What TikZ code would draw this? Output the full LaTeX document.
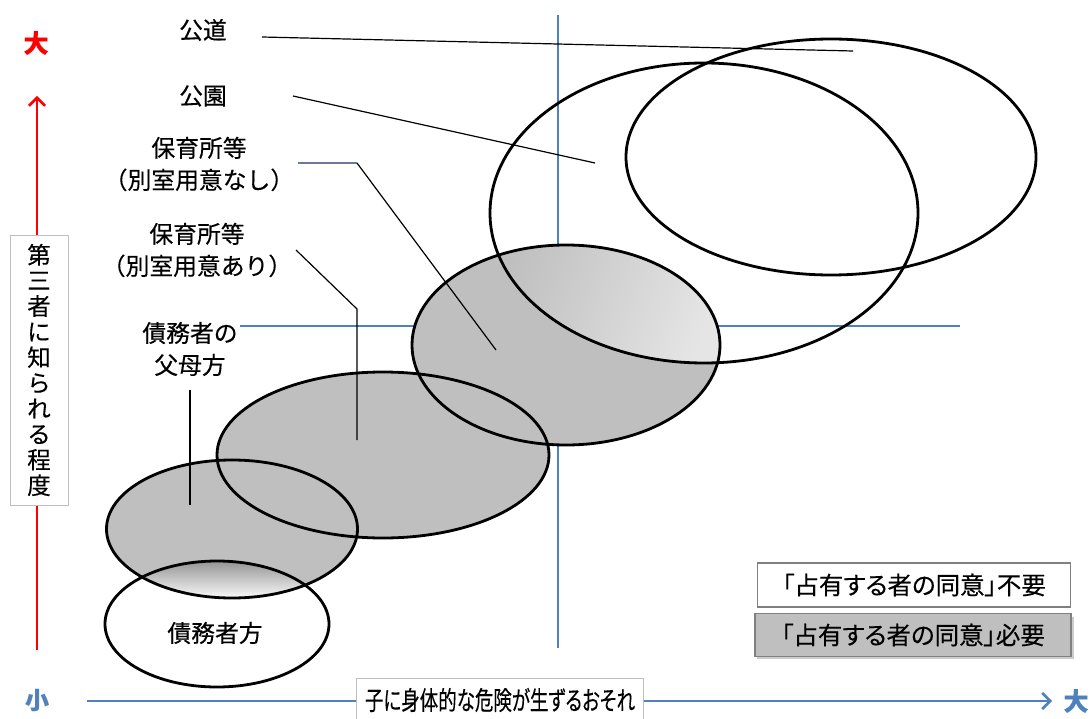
\documentclass[tikz,border=0pt]{standalone}
\usepackage{fontspec}
\usepackage{graphicx}
\setmainfont{Noto Sans CJK JP}[FakeBold=0.25]
\newfontfamily\jpp{Noto Sans CJK JP}[RawFeature=+palt, FakeBold=0.25]
\usetikzlibrary{arrows.meta}
\definecolor{axblue}{HTML}{4F81BD}
\definecolor{fillgray}{HTML}{BFBFBF}
\definecolor{boxgray}{HTML}{BFBFBF}
\definecolor{leadblue}{HTML}{6B7B95}
\begin{document}
\begin{tikzpicture}[x=1pt,y=-1pt,
  lbl/.style={font=\fontsize{23.8}{32}\selectfont, align=center, inner sep=0pt},
  ell/.style={line width=2.8pt, draw=black},
  lead/.style={line width=1.2pt, black},
  crossline/.style={line width=1.4pt, axblue},
  axarrow/.style={line width=2.6pt, -{Straight Barb[length=8pt,width=16pt]}},
  legbox/.style={draw=black!50, line width=1.2pt, minimum width=313pt, minimum height=44pt, inner sep=0pt, font=\jpp\fontsize{24.5}{28}\selectfont},
]
\useasboundingbox (0,0) rectangle (1091,719);
\fill[white] (0,0) rectangle (1091,719);

% quadrant lines
\draw[crossline] (558,15) -- (558,648);
\draw[crossline] (240,326) -- (960,326);

% grey fills
\fill[fillgray] (232,529) ellipse [x radius=125.5, y radius=69];
\fill[fillgray] (383,455) ellipse [x radius=166, y radius=83];
\fill[fillgray] (566,345) ellipse [x radius=154, y radius=100];

% gradient intersections
\begin{scope}
  \clip (566,345) ellipse [x radius=154, y radius=100];
  \clip (704,213) ellipse [x radius=214, y radius=150];
  \shade[left color=fillgray, right color=black!10, shading angle=70] (490,235) rectangle (725,365);
\end{scope}
\begin{scope}
  \clip (232,529) ellipse [x radius=125.5, y radius=69];
  \clip (217,624) ellipse [x radius=112, y radius=63];
  \shade[top color=black!45, bottom color=white] (100,558) rectangle (360,600);
\end{scope}

% outlines
\draw[ell] (831,157) ellipse [x radius=205, y radius=118];
\draw[ell] (704,213) ellipse [x radius=214, y radius=150];
\draw[ell] (566,345) ellipse [x radius=154, y radius=100];
\draw[ell] (383,455) ellipse [x radius=166, y radius=83];
\draw[ell] (232,529) ellipse [x radius=125.5, y radius=69];
\draw[ell] (217,624) ellipse [x radius=112, y radius=63];

% labels
\node[lbl] (gd) at (203,30) {公道};
\node[lbl] (ke) at (203,96) {公園};
\node[lbl] (hn) at (199,164) {保育所等\\（別室用意なし）};
\node[lbl] (ha) at (197,250) {保育所等\\（別室用意あり）};
\node[lbl] (fb) at (190,349) {債務者の\\父母方};
\node[lbl] (sm) at (215,633) {債務者方};

% leader lines
\coordinate (gdA) at (262,37);  \coordinate (gdB) at (853,51);
\coordinate (keA) at (293,96);  \coordinate (keB) at (595,163);
\coordinate (hnA) at (298,163); \coordinate (hnK) at (357,163); \coordinate (hnB) at (496,350);
\coordinate (haA) at (296,250); \coordinate (haK) at (357,309); \coordinate (haB) at (357,440);
\coordinate (fbA) at (190,390); \coordinate (fbB) at (190,505);
\draw[lead] (gdA) -- (gdB);
\draw[lead] (keA) -- (keB);
\draw[line width=1.2pt, leadblue] (hnA) -- (hnK);
\draw[lead] (hnK) -- (hnB);
\draw[lead] (haA) -- (haK) -- (haB);
\draw[lead] (fbA) -- (fbB);

% vertical axis
\coordinate (yS) at (37,650);
\coordinate (yE) at (37,96);
\draw[axarrow, red] (yS) -- (yE);
\node[font=\fontsize{25}{28}\selectfont\bfseries, text=red] (ybig) at (36,43) {大};
\node[draw=black!25, line width=0.8pt, fill=white, minimum width=58pt, minimum height=270pt, inner sep=0pt,
      align=center, font=\fontsize{23.5}{25.6}\selectfont] (ylab) at (39,370)
  {第\\三\\者\\に\\知\\ら\\れ\\る\\程\\度};

% horizontal axis
\coordinate (xS) at (87,701);
\coordinate (xE) at (1052,701);
\draw[axarrow, axblue] (xS) -- (xE);
\node[font=\fontsize{24}{28}\selectfont\bfseries, text=axblue] (xsmall) at (37,700) {小};
\node[font=\fontsize{25}{28}\selectfont\bfseries, text=axblue] (xbig) at (1076,701) {大};
\fill[white] (356,678) rectangle (643,719);
\draw[black!25, line width=0.8pt] (356,719) -- (356,678) -- (643,678) -- (643,719);
\node[font=\jpp\fontsize{23}{28}\selectfont, inner sep=0pt] (xlab) at (500,700) {\resizebox{270pt}{22pt}{子に身体的な危険が生ずるおそれ}};

% legend
\node[legbox, fill=white] (leg1) at (914,585) {「占有する者の同意」不要};
\fill[black!20] (757,617) rectangle (1074,659);
\node[legbox, fill=boxgray, minimum width=316pt, minimum height=43pt] (leg2) at (913,635) {「占有する者の同意」必要};
\end{tikzpicture}
\end{document}
